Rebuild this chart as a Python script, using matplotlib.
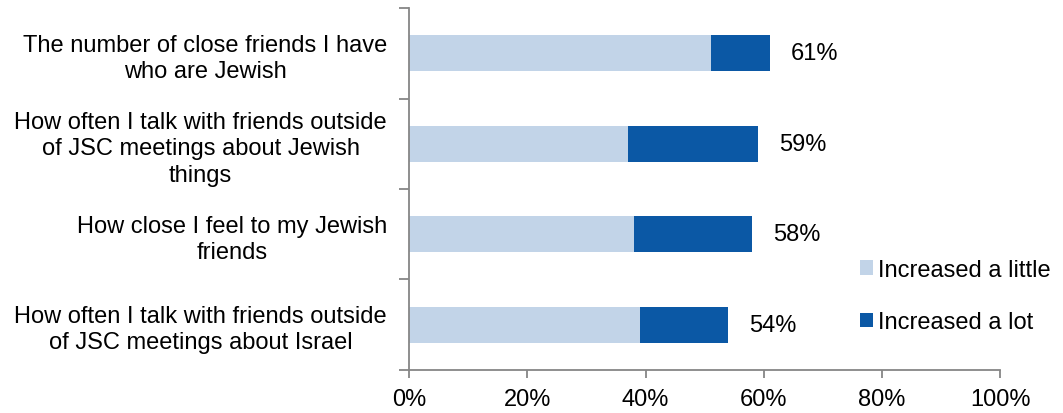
import matplotlib.pyplot as plt
import numpy as np

plt.rcParams['font.family'] = ['Liberation Sans', 'DejaVu Sans']

items = [
    'The number of close friends I have\nwho are Jewish',
    'How often I talk with friends outside\nof JSC meetings about Jewish\nthings',
    'How close I feel to my Jewish\nfriends',
    'How often I talk with friends outside\nof JSC meetings about Israel',
]
little = [51, 37, 38, 39]
lot = [10, 22, 20, 15]
totals = [61, 59, 58, 54]

light_blue = '#C2D4E8'
dark_blue = '#0B58A5'
axis_grey = '#868686'
fs = 17

fig = plt.figure(figsize=(10.63, 4.14), dpi=100)
ax = fig.add_axes([0.385, 0.104, 0.556, 0.874])

y = np.arange(len(items))
ax.barh(y, little, height=0.4, color=light_blue, label='Increased a little')
ax.barh(y, lot, left=little, height=0.4, color=dark_blue, label='Increased a lot')

# totals sit a little to the right of each stacked bar
for yi, t in zip(y, totals):
    ax.text(t + 3.5, yi, f'{t}%', ha='left', va='center', fontsize=fs)

ax.set_xlim(0, 100)
ax.set_ylim(len(items) - 0.5, -0.5)
ax.set_xticks(np.arange(0, 101, 20))
ax.set_xticklabels([f'{v}%' for v in range(0, 101, 20)], fontsize=fs)

# category names at centres, tick marks between categories
ax.set_yticks(y)
ax.set_yticklabels(items, fontsize=fs)
ax.set_yticks(np.arange(-0.5, len(items)), minor=True)
ax.tick_params(axis='y', which='major', length=0, pad=16)
ax.tick_params(axis='y', which='minor', length=7, width=1.3, color=axis_grey)
ax.tick_params(axis='x', length=6, width=1.3, color=axis_grey, pad=7)
for lab in ax.get_yticklabels():
    lab.set_multialignment('center')
    lab.set_linespacing(1.25)

for side in ['top', 'right']:
    ax.spines[side].set_visible(False)
for side in ['left', 'bottom']:
    ax.spines[side].set_color(axis_grey)
    ax.spines[side].set_linewidth(1.3)

ax.legend(loc='center left', bbox_to_anchor=(0.763, 0.204), frameon=False,
          fontsize=fs, handlelength=0.55, handleheight=0.55, handletextpad=0.2,
          labelspacing=1.3, borderaxespad=0, borderpad=0)

fig.savefig('out.png', dpi=100)
